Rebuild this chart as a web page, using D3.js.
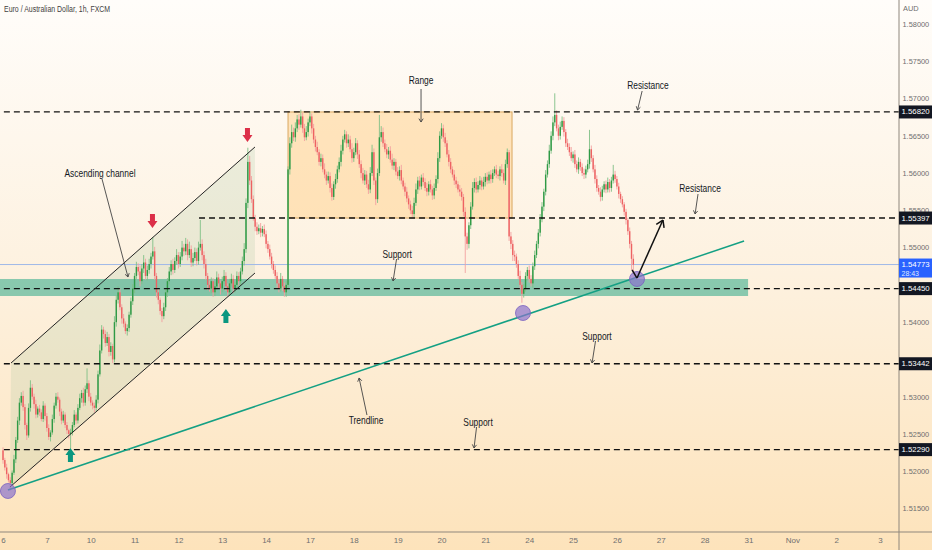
<!DOCTYPE html>
<html><head><meta charset="utf-8">
<script src="https://cdn.jsdelivr.net/npm/d3@7"></script>
<style>html,body{margin:0;padding:0;overflow:hidden;background:#fff}</style>
</head><body><svg id="c" width="932" height="550"></svg>
<script>
// ---------- DATA ----------
const title = "Euro / Australian Dollar, 1h, FXCM";
const currency = "AUD";
// hourly EUR/AUD candles, prices as pips above 1.5000
const pipBase = 1.5, pip = 0.0001;
const firstOpen = 228;
const closePips = [
215,205,196,188,184,198,216,242,268,292,
301,286,262,248,285,312,300,290,276,284,
279,270,288,274,258,246,252,270,288,300,
296,280,268,276,262,255,250,252,262,276,
268,285,298,305,292,310,318,300,292,288,
285,296,330,362,390,384,372,380,360,368,
350,400,430,440,420,405,398,388,392,410,
428,445,462,474,468,455,472,480,462,470,
478,488,495,462,440,430,415,408,420,440,
455,468,478,470,482,490,478,488,500,495,
505,490,498,480,486,494,482,500,505,490,
478,462,450,445,455,440,448,460,452,445,
455,462,448,440,452,458,445,450,462,455,
468,482,498,560,615,590,565,540,528,522,
526,520,525,518,505,498,488,478,470,462,
452,445,458,448,440,450,605,640,655,648,
660,672,665,676,660,648,655,668,676,660,
645,635,628,615,620,605,598,590,596,580,
568,585,592,605,615,630,645,652,640,645,
632,620,628,640,625,612,600,590,598,585,
578,600,628,590,565,600,648,655,640,632,
625,630,618,610,615,602,596,604,590,582,
575,566,558,550,545,560,578,590,582,594,
588,580,575,585,578,570,580,592,620,650,
660,648,640,625,615,605,598,590,585,578,
575,568,548,515,505,530,555,580,588,578,
584,590,582,588,595,590,598,592,600,605,
598,596,605,600,590,612,628,515,505,490,
488,478,462,450,438,445,462,470,458,452,
475,490,505,520,538,555,575,598,612,630,
650,668,678,660,650,662,670,655,640,635,
628,620,625,612,605,615,608,600,598,605,
612,632,620,605,592,580,575,568,578,585,
578,588,580,590,598,592,582,572,565,558,
548,537,522,505,485,477];
const upperWickPips = [
4,3,5,2,4,3,6,4,5,6, 5,7,4,3,6,10,5,4,6,3, 5,4,6,3,4,5,3,6,4,5, 6,3,4,5,3,4,2,5,4,6,
3,5,6,4,7,5,20,4,5,3, 4,6,5,8,6,4,5,7,4,5, 3,8,6,8,5,4,6,3,5,4, 5,6,4,7,5,8,6,10,5,6,
7,5,19,6,4,5,3,4,6,5, 4,6,5,7,5,8,4,6,9,5, 8,6,10,5,7,6,5,8,32,6, 5,7,4,6,5,4,6,8,5,4,
6,8,5,4,6,7,5,4,6,5, 5,6,8,6,19,8,6,5,4,6, 5,7,4,6,5,4,6,5,4,6, 5,6,8,4,5,6,4,8,10,6,
8,6,7,9,5,6,8,5,7,4, 6,5,7,4,6,5,8,4,6,5, 6,4,7,5,6,8,5,6,4,7, 5,8,6,7,4,6,5,7,6,5,
6,8,10,5,4,6,30,8,6,5, 7,5,6,8,5,4,6,5,7,4, 5,6,4,5,6,7,8,5,6,4, 6,5,7,4,6,5,6,5,8,6,
7,5,6,4,6,5,4,6,5,4, 6,5,4,6,5,4,6,8,5,6, 5,6,4,7,5,6,4,6,5,4, 6,5,4,7,5,6,5,3,6,5,
6,4,5,7,4,6,5,4,6,5, 5,6,4,5,7,6,4,6,5,8, 6,8,29,6,5,7,6,5,4,6, 5,7,4,6,5,6,4,5,6,5,
6,26,5,4,6,5,4,6,5,4, 5,6,4,5,13,5,4,5,3,4, 3,4,3,5,4,6];
const lowerWickPips = [
5,4,6,3,10,4,3,5,4,6, 4,5,6,6,3,5,4,6,5,4, 5,3,4,6,5,4,6,3,5,4, 4,6,5,3,4,5,6,19,4,3,
5,4,3,6,5,4,5,6,4,5, 6,4,5,3,4,6,5,4,6,5, 5,4,6,5,4,7,5,4,6,5, 4,5,6,4,5,7,4,6,5,6,
5,6,4,5,7,6,5,8,4,5, 6,4,5,6,4,5,6,4,5,6, 5,7,4,6,5,4,6,5,4,7, 6,5,7,4,6,6,5,4,6,8,
5,4,6,6,5,4,6,5,4,6, 5,4,6,5,7,6,5,4,6,5, 4,6,5,4,6,5,4,6,5,4, 6,5,4,6,6,6,5,7,6,5,
6,5,7,4,6,5,4,6,5,7, 5,6,4,5,6,4,5,6,4,6, 5,4,6,5,4,6,5,4,6,5, 4,6,5,4,6,5,7,4,6,5,
6,5,4,6,8,5,4,6,5,4, 5,6,4,5,6,5,4,6,5,4, 6,5,6,5,4,5,4,6,5,4, 5,4,6,5,4,6,5,4,6,5,
4,6,5,4,6,5,4,6,5,4, 6,5,6,49,8,6,5,4,6,5, 4,6,5,4,6,5,4,6,5,4, 5,4,6,5,4,6,5,6,7,8,
6,5,4,6,12,5,4,6,5,4, 6,5,4,6,5,4,6,5,4,5, 4,6,5,4,6,5,4,6,5,4, 5,4,6,5,4,6,5,4,6,5,
4,6,5,4,6,5,4,6,5,4, 5,4,6,5,4,5,4,6,5,4, 5,6,5,6,15,12];
const dayLabels = ["6","7","10","11","12","13","14","17","18","19","20","21","24","25","26","27","28","31","Nov","2","3"];
const barsPerDay = 24;
const priceTicks = [1.515,1.52,1.525,1.53,1.535,1.54,1.545,1.55,1.555,1.56,1.565,1.57,1.575,1.58];
const levelPrices = [1.5682, 1.55397, 1.5445, 1.53442, 1.5229];
const levelStartBar = [-5, 107.3, -5, -5, -5];
const lastPrice = 1.54773, countdown = "28:43";
// drawings, positioned in (bar index, price)
const channelPts = [[4.4,1.53452],[137.9,1.5635],[137.9,1.54659],[3.8,1.51788]];
const trendPts = [[2.7,1.51748],[405.6,1.55089]];
const circlePts = [[2.7,1.51735],[284.6,1.54123],[347,1.54579]];
const rangeBox = {i0:156, i1:278.6, p0:1.5682, p1:1.55397};
const supportBand = {i0:-5, i1:407.8, p0:1.54579, p1:1.54351};
const downArrows = [[133.8,1.56417],[81.8,1.55263]];
const upArrows = [[122,1.54176],[36.9,1.52312]];
const projection = [[344.3,1.547],[347,1.54592],[361.2,1.5537]];
const notes = [
 {t:"Range", at:[228.8,1.57249], a:[[228.8,1.57128],[228.8,1.56685]]},
 {t:"Resistance", at:[353,1.57182], a:[[349.8,1.57101],[347.3,1.56846]]},
 {t:"Resistance", at:[381.5,1.558], a:[[380.4,1.55719],[378.8,1.55451]]},
 {t:"Ascending channel", at:[53.1,1.56001], a:[[54.2,1.5592],[68.4,1.54606]]},
 {t:"Support", at:[215.7,1.54914], a:[[215.4,1.54847],[213.5,1.54552]]},
 {t:"Support", at:[325.1,1.53814], a:[[324.3,1.53747],[322.4,1.53452]]},
 {t:"Trendline", at:[198.7,1.52687], a:[[199.2,1.52754],[194.9,1.53251]]},
 {t:"Support", at:[260,1.5266], a:[[259.2,1.52593],[257.8,1.52312]]}
];

// ---------- CHART ----------
const W = 932, H = 550, axisX = 899, axisY = 532;
const svg = d3.select("#c");
const xs = d3.scaleLinear().domain([0, 480]).range([3, 880]);
const ys = d3.scaleLinear().domain([1.515, 1.58]).range([508.5, 24]);
const P = v => pipBase + v * pip;
const font = "'Liberation Sans',Arial,sans-serif";
function narrow(sel, k){
  sel.each(function(){
    const L = this.getComputedTextLength();
    if (L > 0) d3.select(this).attr("textLength", L*k).attr("lengthAdjust","spacingAndGlyphs");
  });
}

const defs = svg.append("defs");
const g = defs.append("linearGradient").attr("id","bg").attr("x1",0).attr("y1",0).attr("x2",0).attr("y2",1);
g.append("stop").attr("offset","0").attr("stop-color","#fffdfa");
g.append("stop").attr("offset","0.5").attr("stop-color","#fdf1df");
g.append("stop").attr("offset","1").attr("stop-color","#fde3bb");
svg.append("rect").attr("width",W).attr("height",H).attr("fill","url(#bg)");

const plot = svg.append("g");
const clip = defs.append("clipPath").attr("id","pc");
clip.append("rect").attr("x",0).attr("y",0).attr("width",axisX).attr("height",axisY);
plot.attr("clip-path","url(#pc)");

// range box
plot.append("rect")
  .attr("x", xs(rangeBox.i0)).attr("width", xs(rangeBox.i1)-xs(rangeBox.i0))
  .attr("y", ys(rangeBox.p0)).attr("height", ys(rangeBox.p1)-ys(rangeBox.p0))
  .attr("fill","#ffcf8a").attr("fill-opacity",0.5).attr("stroke","#d9a860").attr("stroke-width",1);

// channel fill
const pt = d => [xs(d[0]), ys(d[1])];
plot.append("polygon").attr("points", channelPts.map(d=>pt(d).join(",")).join(" "))
  .attr("fill","#6aa872").attr("fill-opacity",0.13);

// support band
plot.append("rect")
  .attr("x", xs(supportBand.i0)).attr("width", xs(supportBand.i1)-xs(supportBand.i0))
  .attr("y", ys(supportBand.p0)).attr("height", ys(supportBand.p1)-ys(supportBand.p0))
  .attr("fill","#2aa886").attr("fill-opacity",0.55);

// current price line
plot.append("line").attr("x1",0).attr("x2",axisX).attr("y1",ys(lastPrice)).attr("y2",ys(lastPrice))
  .attr("stroke","#9fb8e8").attr("stroke-width",1);

// candles
const candles = closePips.map((c,i)=>{
  const o = i===0 ? firstOpen : closePips[i-1];
  return {i, o:P(o), c:P(c), h:P(Math.max(o,c)+upperWickPips[i]), l:P(Math.min(o,c)-lowerWickPips[i])};
});
const cg = plot.append("g");
cg.selectAll("line").data(candles).join("line")
  .attr("x1",d=>xs(d.i)).attr("x2",d=>xs(d.i))
  .attr("y1",d=>ys(d.h)).attr("y2",d=>ys(d.l))
  .attr("stroke",d=>d.c>=d.o?"#7fbf86":"#f3a0a0").attr("stroke-width",0.9);
cg.selectAll("rect").data(candles).join("rect")
  .attr("x",d=>xs(d.i)-0.7).attr("width",1.4)
  .attr("y",d=>ys(Math.max(d.o,d.c)))
  .attr("height",d=>Math.max(0.8, Math.abs(ys(d.o)-ys(d.c))))
  .attr("fill",d=>d.c>=d.o?"#2f9a45":"#ee6262");

// dashed levels
plot.selectAll("line.lvl").data(levelPrices).join("line").attr("class","lvl")
  .attr("x1",(d,k)=>xs(levelStartBar[k])).attr("x2",axisX)
  .attr("y1",d=>ys(d)).attr("y2",d=>ys(d))
  .attr("stroke","#111").attr("stroke-width",1.3).attr("stroke-dasharray","6,4");

// channel lines
plot.append("line").attr("x1",pt(channelPts[0])[0]).attr("y1",pt(channelPts[0])[1])
  .attr("x2",pt(channelPts[1])[0]).attr("y2",pt(channelPts[1])[1]).attr("stroke","#222").attr("stroke-width",1);
plot.append("line").attr("x1",pt(channelPts[3])[0]).attr("y1",pt(channelPts[3])[1])
  .attr("x2",pt(channelPts[2])[0]).attr("y2",pt(channelPts[2])[1]).attr("stroke","#222").attr("stroke-width",1);

// trendline
plot.append("line").attr("x1",pt(trendPts[0])[0]).attr("y1",pt(trendPts[0])[1])
  .attr("x2",pt(trendPts[1])[0]).attr("y2",pt(trendPts[1])[1]).attr("stroke","#14a084").attr("stroke-width",1.5);

// circles
plot.selectAll("circle").data(circlePts).join("circle")
  .attr("cx",d=>xs(d[0])).attr("cy",d=>ys(d[1])).attr("r",7.5)
  .attr("fill","#8a72cc").attr("fill-opacity",0.7).attr("stroke","#7a62c0").attr("stroke-width",0.8);

// block arrows: tip at (x,y); m = -1 body above tip (points down), +1 body below tip (points up)
function blockArrow(x, y, m, color){
  const pts = [[0,0],[5,7],[2.5,7],[2.5,14],[-2.5,14],[-2.5,7],[-5,7]];
  plot.append("polygon").attr("points", pts.map(p=>[x+p[0], y+m*p[1]].join(",")).join(" ")).attr("fill",color);
}
downArrows.forEach(d=>blockArrow(xs(d[0]), ys(d[1]), -1, "#dc2f48"));
upArrows.forEach(d=>blockArrow(xs(d[0]), ys(d[1]), 1, "#0a9780"));

// arrow-line helper
function arrowLine(p1, p2, color, w, head){
  const [x1,y1]=p1,[x2,y2]=p2;
  plot.append("line").attr("x1",x1).attr("y1",y1).attr("x2",x2).attr("y2",y2).attr("stroke",color).attr("stroke-width",w);
  const a = Math.atan2(y2-y1,x2-x1);
  [a+Math.PI*0.82, a-Math.PI*0.82].forEach(b=>{
    plot.append("line").attr("x1",x2).attr("y1",y2)
      .attr("x2",x2+head*Math.cos(b)).attr("y2",y2+head*Math.sin(b))
      .attr("stroke",color).attr("stroke-width",w);
  });
}
// projection path
const pp = projection.map(pt);
plot.append("line").attr("x1",pp[0][0]).attr("y1",pp[0][1]).attr("x2",pp[1][0]).attr("y2",pp[1][1]).attr("stroke","#111").attr("stroke-width",1.5);
arrowLine(pp[1], pp[2], "#111", 1.5, 8);

// notes
notes.forEach(n=>{
  arrowLine(pt(n.a[0]), pt(n.a[1]), "#444", 0.9, 4);
  const t = plot.append("text").attr("x",xs(n.at[0])).attr("y",ys(n.at[1]))
    .attr("text-anchor","middle").attr("dominant-baseline","central")
    .attr("font-family",font).attr("font-size",10.5).attr("fill","#131722").text(n.t);
  narrow(t, 0.8);
});

// title
narrow(svg.append("text").attr("x",4).attr("y",12).attr("font-family",font).attr("font-size",8.5)
  .attr("fill","#3f3f3f").text(title), 0.82);

// axes: tick labels fully hidden behind a level's price tag are not drawn
const visibleTicks = priceTicks.filter(t => levelPrices.every(p => Math.abs(ys(t)-ys(p)) > 6.5));
const axR = d3.axisRight(ys).tickValues(visibleTicks).tickSize(0).tickPadding(3.5).tickFormat(d3.format(".5f"));
const gR = svg.append("g").attr("transform",`translate(${axisX},0)`).call(axR);
gR.select(".domain").remove();
gR.selectAll("text").attr("font-family",font).attr("font-size",7.4).attr("fill","#6f6f6f");
const axB = d3.axisBottom(xs).tickValues(dayLabels.map((_,k)=>k*barsPerDay)).tickSize(0).tickPadding(5)
  .tickFormat((d,k)=>dayLabels[k]);
const gB = svg.append("g").attr("transform",`translate(0,${axisY})`).call(axB);
gB.select(".domain").remove();
gB.selectAll("text").attr("font-family",font).attr("font-size",8).attr("fill","#6f6f6f");
svg.append("line").attr("x1",axisX).attr("x2",axisX).attr("y1",0).attr("y2",H).attr("stroke","#8f877c");
svg.append("line").attr("x1",0).attr("x2",W).attr("y1",axisY).attr("y2",axisY).attr("stroke","#8f877c");
svg.append("text").attr("x",903).attr("y",11).attr("font-family",font).attr("font-size",7.4).attr("fill","#6f6f6f").text(currency);

// price labels
levelPrices.forEach(p=>{
  svg.append("rect").attr("x",axisX).attr("y",ys(p)-6.5).attr("width",W-axisX).attr("height",13).attr("fill","#131722");
  svg.append("text").attr("x",901.5).attr("y",ys(p)).attr("dominant-baseline","central")
    .attr("font-family",font).attr("font-size",7.8).attr("fill","#fff").text(d3.format(".5f")(p));
});
svg.append("rect").attr("x",axisX).attr("y",ys(lastPrice)-6).attr("width",W-axisX).attr("height",19).attr("fill","#2962ff");
svg.append("text").attr("x",901.5).attr("y",ys(lastPrice)).attr("dominant-baseline","central")
  .attr("font-family",font).attr("font-size",7.8).attr("fill","#fff").text(d3.format(".5f")(lastPrice));
svg.append("text").attr("x",901.5).attr("y",ys(lastPrice)+9).attr("dominant-baseline","central")
  .attr("font-family",font).attr("font-size",7).attr("fill","#dfe6ff").text(countdown);
</script>
</body></html>
